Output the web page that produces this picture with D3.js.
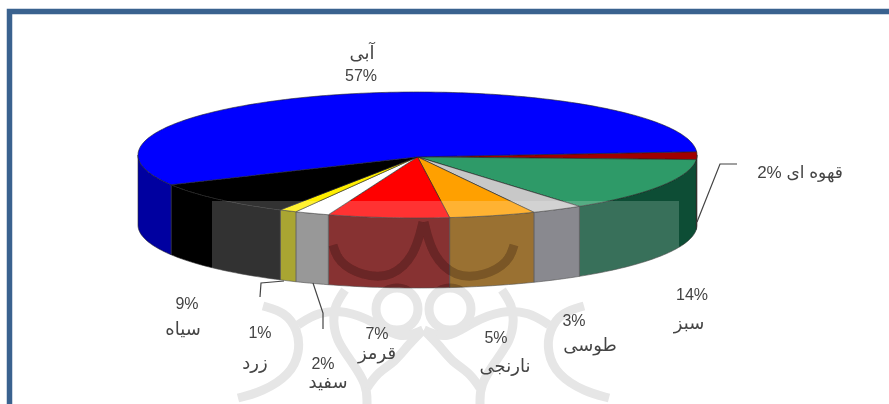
<!DOCTYPE html>
<html><head><meta charset="utf-8">
<script src="https://cdnjs.cloudflare.com/ajax/libs/d3/7.8.5/d3.min.js"></script>
<style>html,body{margin:0;padding:0;background:#fff;overflow:hidden}svg{display:block}
text{font-family:"Liberation Sans","DejaVu Sans",sans-serif;fill:#444;text-anchor:middle}</style>
</head><body><svg id="c" width="889" height="404"></svg>
<script>
// Data, clockwise from the right-hand edge of the pie
const categories = ["قهوه ای","سبز","طوسی","نارنجی","قرمز","سفید","زرد","سیاه","آبی"];
const values     = [2,14,3,5,7,2,1,9,57];
const topColors  = ["#a00000","#2f9a68","#c8c8c8","#ffa000","#ff0000","#ffffff","#ffee00","#000000","#0000ff"];
const sideColors = ["#5e0000","#0a4e34","#6e6e76","#835000","#6c0000","#808080","#959000","#000000","#0000a0"];
// label anchor positions [name x,y, percent x,y]
const labelPos = [[800,172,null,null],[689,323,692,294],[590,345,574,320],[505,366,496,337],[377,353,377,333],[328,382,323,363],[255,363,260,332],[183,329,187,303],[362,53,361,75]];

const svg = d3.select("#c");
const defs = svg.append("defs");
defs.append("filter").attr("id","soft").attr("x","-5%").attr("y","-5%").attr("width","110%").attr("height","110%")
  .append("feGaussianBlur").attr("stdDeviation",0.55);
defs.append("clipPath").attr("id","sideClip").append("rect").attr("x",325).attr("y",218).attr("width",205).attr("height",69);

// frame
svg.append("rect").attr("x",0).attr("y",0).attr("width",889).attr("height",404).attr("fill","#fff");
svg.append("path").attr("d","M9.5,404V11.5H889").attr("fill","none").attr("stroke","#3a628f").attr("stroke-width",5.5);

const root = svg.append("g").attr("filter","url(#soft)");

const px = d3.scaleLinear().domain([-1,1]).range([138,697]);
const py = d3.scaleLinear().domain([-1,1]).range([92,218]);
const depth = 70;
const pie = d3.pie().sort(null).value(d=>d).startAngle(87*Math.PI/180).endAngle((87+360)*Math.PI/180);
const arcs = pie(values);
const line = d3.line();
const rim = (a0,a1,dy=0)=>{
  const n=Math.max(2,Math.ceil((a1-a0)/0.02));
  return d3.range(n+1).map(i=>{const a=a0+(a1-a0)*i/n;return [px(Math.sin(a)),py(-Math.cos(a))+dy];});
};
// side walls
arcs.forEach((d,i)=>{
  for(const k of [0,2]){
    const lo=Math.max(d.startAngle,Math.PI/2+k*Math.PI), hi=Math.min(d.endAngle,3*Math.PI/2+k*Math.PI);
    if(hi<=lo) continue;
    const up=rim(lo,hi), down=rim(lo,hi,depth).reverse();
    root.append("path").attr("d",line(up.concat(down))+"Z")
      .attr("fill",sideColors[i]).attr("stroke","#2a2a2a").attr("stroke-width",0.6);
  }
});
// top faces
const apex=[px(0),py(0.03)];
arcs.forEach((d,i)=>{
  root.append("path").attr("d",line([apex].concat(rim(d.startAngle,d.endAngle)))+"Z")
    .attr("fill",topColors[i]).attr("stroke","#222").attr("stroke-width",0.6).attr("stroke-linejoin","round");
});
// translucent watermark band
root.append("rect").attr("x",212).attr("y",201).attr("width",467).attr("height",100).attr("fill","#fff").attr("opacity",0.19);

// watermark ornament, mirrored about its axis
const axis=423.5;
const curve=d3.line().curve(d3.curveBasis);
const orn=[
 [[333,245],[338,262],[362,276],[392,278],[415,255],[423,222]],
 [[345,290],[335,305],[333,320],[336,340],[352,362],[367,385],[367,404]],
 [[263,306],[285,312],[298,330],[300,352],[290,375],[262,392],[238,398]],
 [[298,325],[318,312],[345,310],[375,322],[400,340],[423,330]],
 [[423,330],[408,345],[395,362],[378,372],[367,388]]
];
function ornament(g,color,w){
  orn.forEach(p=>{
    g.append("path").attr("d",curve(p)).attr("fill","none").attr("stroke",color).attr("stroke-width",w);
    g.append("path").attr("d",curve(p.map(q=>[2*axis-q[0],q[1]]))).attr("fill","none").attr("stroke",color).attr("stroke-width",w);
  });
  for(const cx of [397,450]) g.append("circle").attr("cx",cx).attr("cy",309).attr("r",21).attr("fill","none").attr("stroke",color).attr("stroke-width",w);
}
const wm=root.append("g").style("mix-blend-mode","multiply");
ornament(wm,"#e6e6e6",9);
const wm2=root.append("g").attr("clip-path","url(#sideClip)").style("mix-blend-mode","multiply");
ornament(wm2,"#e0d6d6",9);

// leader lines
const leaders=[[[697,222],[720,164],[737,164]],[[284,281],[261,283],[260,297]],[[313,283],[323,313],[323,329]]];
leaders.forEach(l=>root.append("path").attr("d",line(l)).attr("fill","none").attr("stroke","#444").attr("stroke-width",1.2));

// labels
categories.forEach((c,i)=>{
  const p=labelPos[i], pct=values[i]+"%";
  if(p[2]===null){
    root.append("text").attr("x",p[0]).attr("y",p[1]).attr("dy","0.35em").attr("direction","rtl").attr("font-size",17).text(c+" \u2066"+pct+"\u2069");
  }else{
    root.append("text").attr("x",p[0]).attr("y",p[1]).attr("dy","0.35em").attr("font-size",18).text(c);
    root.append("text").attr("x",p[2]).attr("y",p[3]).attr("dy","0.35em").attr("font-size",16).text(pct);
  }
});
</script></body></html>
